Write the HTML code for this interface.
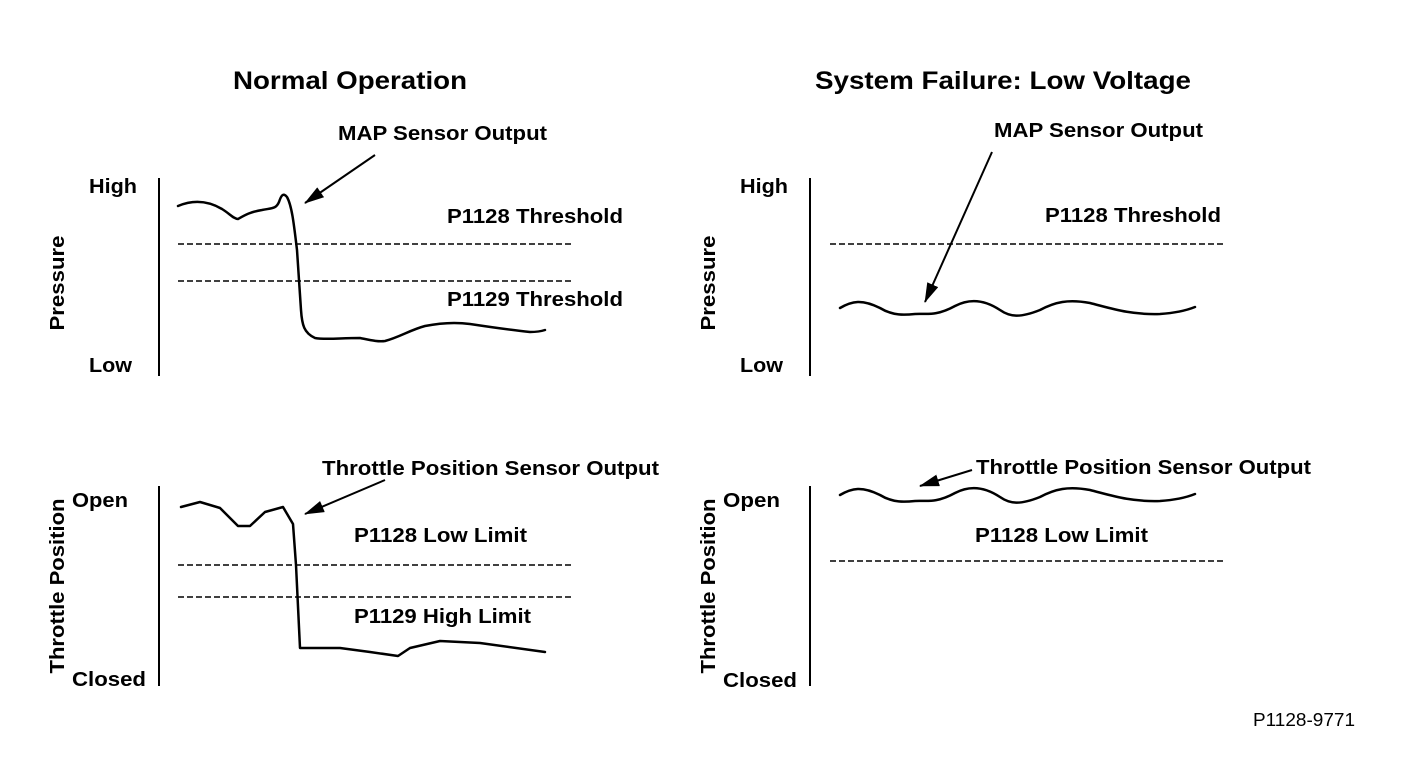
<!DOCTYPE html>
<html><head><style>html,body{margin:0;padding:0;background:#fff}svg{display:block}</style></head><body>
<svg width="1408" height="758" viewBox="0 0 1408 758" xmlns="http://www.w3.org/2000/svg" font-family="Liberation Sans, Arial, sans-serif" font-weight="bold" fill="#000">
<defs>
<marker id="ah2" markerWidth="20" markerHeight="12" refX="19" refY="6" orient="auto" markerUnits="userSpaceOnUse" viewBox="0 0 20 12"><path d="M0,0 L20,6 L0,12 Z" fill="#000"/></marker></defs>
<g lengthAdjust="spacingAndGlyphs">
<text x="233" y="89" font-size="25" textLength="234" lengthAdjust="spacingAndGlyphs">Normal Operation</text>
<text x="815" y="89" font-size="25" textLength="376" lengthAdjust="spacingAndGlyphs">System Failure: Low Voltage</text>
</g>
<g font-size="20">
<text x="338" y="140" textLength="209" lengthAdjust="spacingAndGlyphs">MAP Sensor Output</text>
<text x="994" y="137" textLength="209" lengthAdjust="spacingAndGlyphs">MAP Sensor Output</text>
<text x="89" y="193" textLength="48" lengthAdjust="spacingAndGlyphs">High</text><text x="89" y="372" textLength="43" lengthAdjust="spacingAndGlyphs">Low</text>
<text x="740" y="193" textLength="48" lengthAdjust="spacingAndGlyphs">High</text><text x="740" y="372" textLength="43" lengthAdjust="spacingAndGlyphs">Low</text>
<text x="447" y="223" textLength="176" lengthAdjust="spacingAndGlyphs">P1128 Threshold</text>
<text x="447" y="306" textLength="176" lengthAdjust="spacingAndGlyphs">P1129 Threshold</text>
<text x="1045" y="222" textLength="176" lengthAdjust="spacingAndGlyphs">P1128 Threshold</text>
<text x="322" y="475" textLength="337" lengthAdjust="spacingAndGlyphs">Throttle Position Sensor Output</text>
<text x="976" y="474" textLength="335" lengthAdjust="spacingAndGlyphs">Throttle Position Sensor Output</text>
<text x="72" y="507" textLength="56" lengthAdjust="spacingAndGlyphs">Open</text><text x="72" y="686" textLength="74" lengthAdjust="spacingAndGlyphs">Closed</text>
<text x="723" y="507" textLength="57" lengthAdjust="spacingAndGlyphs">Open</text><text x="723" y="687" textLength="74" lengthAdjust="spacingAndGlyphs">Closed</text>
<text x="354" y="542" textLength="173" lengthAdjust="spacingAndGlyphs">P1128 Low Limit</text>
<text x="354" y="623" textLength="177" lengthAdjust="spacingAndGlyphs">P1129 High Limit</text>
<text x="975" y="542" textLength="173" lengthAdjust="spacingAndGlyphs">P1128 Low Limit</text>
<text transform="translate(64,283) rotate(-90)" text-anchor="middle" textLength="95" lengthAdjust="spacingAndGlyphs">Pressure</text>
<text transform="translate(715,283) rotate(-90)" text-anchor="middle" textLength="95" lengthAdjust="spacingAndGlyphs">Pressure</text>
<text transform="translate(64,586) rotate(-90)" text-anchor="middle" textLength="175" lengthAdjust="spacingAndGlyphs">Throttle Position</text>
<text transform="translate(715,586) rotate(-90)" text-anchor="middle" textLength="175" lengthAdjust="spacingAndGlyphs">Throttle Position</text>
</g>
<text x="1253" y="726" font-size="18" font-weight="normal" textLength="102" lengthAdjust="spacingAndGlyphs">P1128-9771</text>
<g stroke="#000" fill="none" stroke-width="2">
<line x1="159" y1="178" x2="159" y2="376"/><line x1="159" y1="486" x2="159" y2="686"/>
<line x1="810" y1="178" x2="810" y2="376"/><line x1="810" y1="486" x2="810" y2="686"/>
</g>
<g stroke="#000" stroke-width="1.5" stroke-dasharray="6,3">
<line x1="178" y1="244" x2="573" y2="244"/><line x1="178" y1="281" x2="573" y2="281"/>
<line x1="178" y1="565" x2="573" y2="565"/><line x1="178" y1="597" x2="573" y2="597"/>
<line x1="830" y1="244" x2="1226" y2="244"/><line x1="830" y1="561" x2="1226" y2="561"/>
</g>
<g stroke="#000" fill="none" stroke-width="2.5" stroke-linejoin="round" stroke-linecap="round">
<path d="M178,206 C190,201 205,199 222,209 C230,214 234,219 238,219 C245,215 250,212 262,210 C272,208 276,209 279,202 C281,196 283,192 287,197 C292,206 294,225 297,250 L301,310 C302,325 304,333 315,338 C325,340 340,338 360,338 C370,340 378,342 385,341 C400,337 410,330 425,326 C440,323 455,322 470,324 C490,327 510,330 530,332 C538,332 542,331 545,330"/>
<polyline points="181,507 200,502 220,508 238,526 250,526 265,512 283,507 293,524 296,565 300,648 340,648 370,652 398,656 410,648 440,641 480,643 545,652"/>
<path d="M840,308 C852,301 862,299 880,308 C893,316 905,315 915,314 C925,313 935,317 955,306 C970,298 985,300 1000,310 C1010,317 1020,318 1040,310 C1055,302 1068,299 1090,303 C1110,308 1130,315 1160,314 C1175,313 1185,311 1195,307"/>
<path d="M840,495 C852,488 862,486 880,495 C893,503 905,502 915,501 C925,500 935,504 955,493 C970,485 985,487 1000,497 C1010,504 1020,505 1040,497 C1055,489 1068,486 1090,490 C1110,495 1130,502 1160,501 C1175,500 1185,498 1195,494"/>
</g>
<g stroke="#000" stroke-width="2">
<line x1="375" y1="155" x2="305" y2="203" marker-end="url(#ah2)"/>
<line x1="385" y1="480" x2="305" y2="514" marker-end="url(#ah2)"/>
<line x1="992" y1="152" x2="925" y2="302" marker-end="url(#ah2)"/>
<line x1="972" y1="470" x2="920" y2="486" marker-end="url(#ah2)"/>
</g>
</svg>
</body></html>
